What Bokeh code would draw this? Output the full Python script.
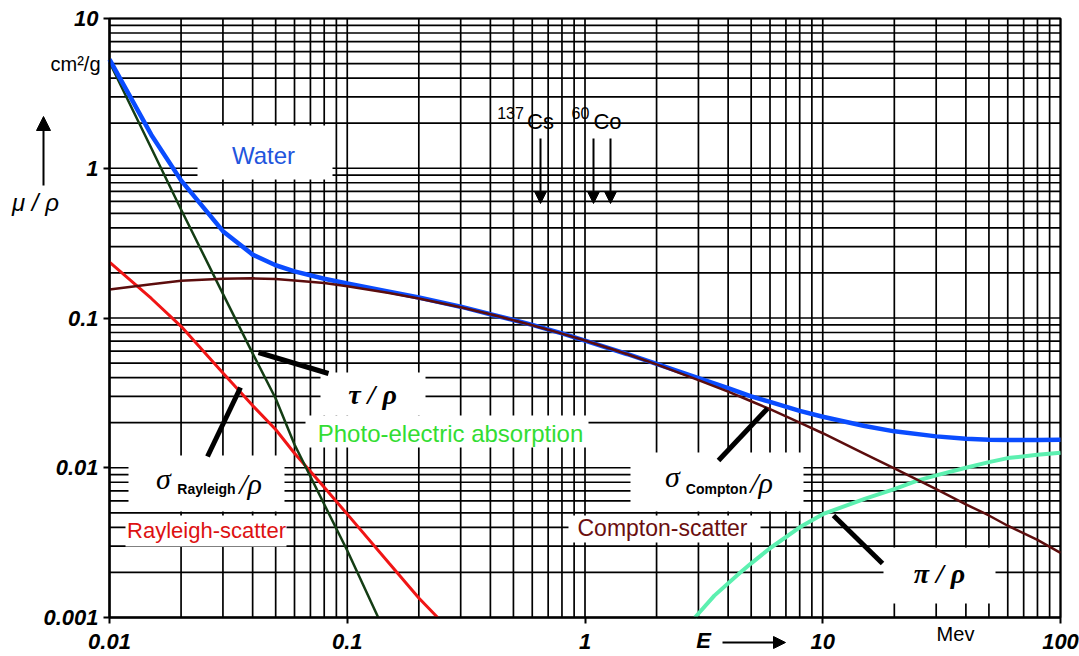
from bokeh.plotting import figure
from bokeh.models import FixedTicker, CustomJSTickFormatter, Label, Arrow, NormalHead
from bokeh.embed import file_html
from bokeh.resources import INLINE

# ---------------- data ----------------
E_water = [0.01, 0.015, 0.02, 0.03, 0.04, 0.05, 0.06, 0.08, 0.1, 0.15, 0.2, 0.3, 0.4, 0.5,
           0.6, 0.8, 1, 1.5, 2, 3, 4, 5, 6, 8, 10, 15, 20, 30, 40, 50, 60, 80, 100]
mu_water = [5.33, 1.67, 0.83, 0.38, 0.265, 0.225, 0.205, 0.183, 0.170, 0.150, 0.137, 0.119,
            0.106, 0.097, 0.090, 0.079, 0.0707, 0.0575, 0.0494, 0.0397, 0.034, 0.0300,
            0.0275, 0.0240, 0.0219, 0.0190, 0.0175, 0.0162, 0.0156, 0.0154, 0.0153, 0.0153, 0.0154]

E_compton = [0.01, 0.015, 0.02, 0.03, 0.04, 0.05, 0.06, 0.08, 0.1, 0.15, 0.2, 0.3, 0.4, 0.5,
             0.6, 0.8, 1, 1.5, 2, 3, 4, 5, 6, 8, 10, 15, 20, 30, 40, 50, 60, 80, 100]
sigma_compton = [0.155, 0.168, 0.177, 0.183, 0.184, 0.182, 0.178, 0.171, 0.163, 0.147, 0.135,
                 0.118, 0.106, 0.0966, 0.0894, 0.0786, 0.0707, 0.0575, 0.0490, 0.0385, 0.0322,
                 0.0278, 0.0246, 0.0200, 0.0170, 0.0124, 0.0099, 0.0072, 0.0057, 0.0048,
                 0.0041, 0.0033, 0.0027]

E_photo = [0.01, 0.015, 0.02, 0.03, 0.04, 0.05, 0.06, 0.08, 0.1, 0.135]
tau_photo = [5.1, 1.36, 0.53, 0.145, 0.058, 0.029, 0.0143, 0.0057, 0.0028, 0.001]

E_rayleigh = [0.01, 0.015, 0.02, 0.03, 0.04, 0.05, 0.06, 0.08, 0.1, 0.15, 0.2, 0.24]
sigma_rayleigh = [0.236, 0.135, 0.088, 0.043, 0.026, 0.018, 0.0125, 0.0074, 0.0049, 0.0023,
                  0.00135, 0.001]

E_pair = [2.9, 3.5, 4.5, 5, 6, 8, 10, 15, 20, 25, 30, 40, 50, 60, 80, 100]
pi_pair = [0.001, 0.0014, 0.002, 0.0023, 0.0029, 0.0040, 0.0049, 0.0062, 0.0072, 0.0082,
           0.0089, 0.0100, 0.0109, 0.0116, 0.0122, 0.0126]

x_major = [0.01, 0.1, 1, 10, 100]
y_major = [0.001, 0.01, 0.1, 1, 10]
X_LO, X_HI = 0.01, 100
Y_LO, Y_HI = 0.001, 10

# ---------------- geometry: plot area 109..1060 x 18..617 on the picture ----------------
PX_DEC = 237.75   # pixels per decade along x
PY_DEC = 149.75   # pixels per decade along y
W, H = 1079, 656


def fx(px):
    return 10 ** (-2 + (px - 109) / PX_DEC)


def fy(py):
    return 10 ** (1 - (py - 18) / PY_DEC)


p = figure(width=W, height=H, x_axis_type="log", y_axis_type="log",
           x_range=(fx(0), fx(W)), y_range=(fy(H), fy(0)),
           output_backend="svg", toolbar_location=None,
           min_border_left=0, min_border_right=0, min_border_top=0, min_border_bottom=0)
p.background_fill_color = "white"
p.border_fill_color = "white"
p.outline_line_color = None
p.xgrid.visible = False
p.ygrid.visible = False

xt = FixedTicker(ticks=x_major)
yt = FixedTicker(ticks=y_major)
p.xaxis.ticker = xt
p.yaxis.ticker = yt
fmt = "return String(tick);"
p.xaxis.formatter = CustomJSTickFormatter(code=fmt)
p.yaxis.formatter = CustomJSTickFormatter(code=fmt)
p.xaxis.fixed_location = Y_LO
p.yaxis.fixed_location = X_LO
p.xaxis.bounds = (X_LO, X_HI)
p.yaxis.bounds = (Y_LO, Y_HI)

p.axis.axis_line_color = "black"
p.axis.axis_line_width = 2
p.axis.major_tick_out = 6
p.axis.major_tick_in = 0
p.axis.major_tick_line_width = 2
p.axis.minor_tick_out = 0
p.axis.minor_tick_in = 0
p.axis.major_label_text_font = "Liberation Sans"
p.axis.major_label_text_font_style = "bold italic"
p.axis.major_label_text_font_size = "22px"
p.axis.major_label_text_color = "black"
p.xaxis.major_label_standoff = 10
p.yaxis.major_label_standoff = 5

# grid (major + minor decades), limited to the plot area
x_minor = [m * 10.0 ** k for k in range(-2, 2) for m in range(2, 10)]
y_minor = [m * 10.0 ** k for k in range(-3, 1) for m in range(2, 10)]
gx = x_major + x_minor
gy = y_major + y_minor
p.segment(x0=gx, y0=[Y_LO] * len(gx), x1=gx, y1=[Y_HI] * len(gx),
          line_color="black", line_width=1.7)
p.segment(x0=[X_LO] * len(gy), y0=gy, x1=[X_HI] * len(gy), y1=gy,
          line_color="black", line_width=1.7)

# white label backgrounds (mask the grid)
boxes = [(197, 332, 125, 179), (320, 425, 372, 415), (305, 588, 415, 447),
         (128, 284, 455, 511), (125, 286, 515, 546), (630, 803, 452, 511),
         (568, 760, 515, 542), (883, 995, 547, 603)]
p.quad(left=[fx(b[0]) for b in boxes], right=[fx(b[1]) for b in boxes],
       top=[fy(b[2]) for b in boxes], bottom=[fy(b[3]) for b in boxes],
       fill_color="white", line_color=None)

# frame border
p.quad(left=[X_LO], right=[X_HI], bottom=[Y_LO], top=[Y_HI],
       fill_color=None, line_color="black", line_width=2)

# curves
p.line(E_rayleigh, sigma_rayleigh, line_color="#f01515", line_width=3)
p.line(E_photo, tau_photo, line_color="#143d14", line_width=2.5)
p.line(E_pair, pi_pair, line_color="#5cf0b0", line_width=4)
p.line(E_water, mu_water, line_color="#0a4cff", line_width=4.5)
p.line(E_compton, sigma_compton, line_color="#5c0d0d", line_width=2.5)

# pointer lines
ptr = [(258, 352, 328, 373), (240, 387, 207, 456), (767, 408, 718, 460), (833, 515, 882, 563)]
p.segment(x0=[fx(a[0]) for a in ptr], y0=[fy(a[1]) for a in ptr],
          x1=[fx(a[2]) for a in ptr], y1=[fy(a[3]) for a in ptr],
          line_color="black", line_width=5)


def lab(text, px, py, size, color="black", font="Liberation Sans", style="normal", align="center"):
    p.add_layout(Label(x=fx(px), y=fy(py), text=text, text_align=align, text_baseline="middle",
                       text_font_size=size, text_color=color, text_font=font,
                       text_font_style=style))


lab("cm²/g", 75, 63, "20px")
lab("μ / ρ", 35, 202, "24px", style="italic")
lab("Water", 263, 155, "24px", color="#2255dd")
lab("137", 510, 112, "16px")
lab("Cs", 540, 121, "22px")
lab("60", 580, 112, "16px")
lab("Co", 607, 121, "22px")
lab("τ / ρ", 372, 394, "28px", font="Liberation Serif", style="bold italic")
lab("Photo-electric absorption", 450, 433, "24px", color="#33dd33")
lab("σ", 163, 478, "30px", font="Liberation Serif", style="italic")
lab("Rayleigh", 206, 488, "14px", style="bold")
lab("/ρ", 250, 483, "30px", font="Liberation Serif", style="italic")
lab("Rayleigh-scatter", 206, 530, "22px", color="#dd1111")
lab("σ", 672, 476, "30px", font="Liberation Serif", style="italic")
lab("Compton", 716, 488, "14px", style="bold")
lab("/ρ", 761, 482, "30px", font="Liberation Serif", style="italic")
lab("Compton-scatter", 662, 527, "23px", color="#6b0f0f")
lab("π / ρ", 939, 573, "28px", font="Liberation Serif", style="bold italic")
lab("E", 703, 640, "22px", style="bold italic")
lab("Mev", 955, 633, "20px")


def arrow(x0, y0, x1, y1, size=12):
    p.add_layout(Arrow(end=NormalHead(size=size, fill_color="black", line_color="black"),
                       x_start=fx(x0), y_start=fy(y0), x_end=fx(x1), y_end=fy(y1),
                       line_color="black", line_width=2))


arrow(43, 185, 43, 116, 14)
arrow(540, 138, 540, 203)
arrow(593, 138, 593, 203)
arrow(610, 138, 610, 203)
arrow(722, 642, 785, 642)

open("out.html", "w").write(file_html(p, INLINE))
